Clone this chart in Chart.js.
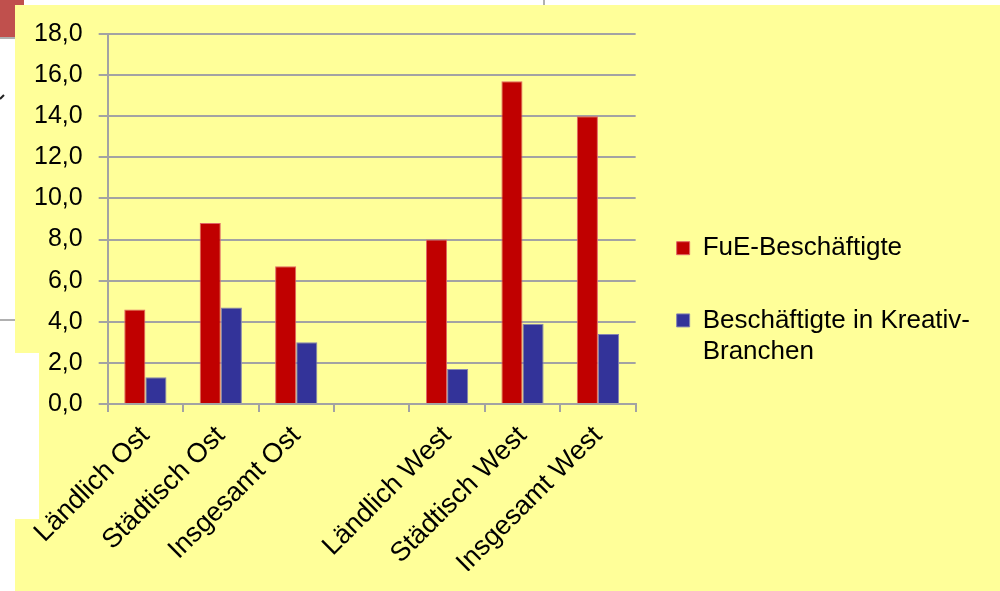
<!DOCTYPE html>
<html>
<head>
<meta charset="utf-8">
<script src="https://cdn.jsdelivr.net/npm/chart.js@4"></script>
<style>
  body { margin: 0; background: #fff; }
  #wrap { width: 1000px; height: 591px; }
</style>
</head>
<body>
<div id="wrap"><canvas id="myChart"></canvas></div>
<script>
var categories = ['Ländlich Ost', 'Städtisch Ost', 'Insgesamt Ost', '', 'Ländlich West', 'Städtisch West', 'Insgesamt West'];
var fueValues = [4.6, 8.8, 6.7, null, 8.0, 15.7, 14.0];
var kreativValues = [1.3, 4.7, 3.0, null, 1.7, 3.9, 3.4];
var fueLabel = ['FuE-Beschäftigte'];
var kreativLabel = ['Beschäftigte in Kreativ-', 'Branchen'];

var gridGrey = '#a3a3a3';
var font = 'Liberation Sans, Arial, sans-serif';

// yellow slide background with the bits of the slide peeking out around it
var backdrop = {
    id: 'backdrop',
    beforeDraw: function (chart) {
        var c = chart.ctx;
        c.save();
        c.fillStyle = '#ffffff';
        c.fillRect(0, 0, chart.width, chart.height);
        c.fillStyle = '#c0504d';
        c.fillRect(0, 0, 24, 37);
        c.fillStyle = '#b0b0b0';
        c.fillRect(0, 37, 15, 2);
        c.fillRect(0, 319, 15, 2);
        c.fillRect(543, 0, 2, 5);
        c.fillStyle = '#ffff99';
        c.beginPath();
        c.moveTo(15, 5);
        c.lineTo(chart.width, 5);
        c.lineTo(chart.width, chart.height);
        c.lineTo(15, chart.height);
        c.lineTo(15, 519);
        c.lineTo(39, 519);
        c.lineTo(39, 353);
        c.lineTo(15, 353);
        c.closePath();
        c.fill();
        c.strokeStyle = '#222';
        c.lineWidth = 2;
        c.beginPath();
        c.moveTo(0, 99);
        c.lineTo(4, 95);
        c.stroke();
        c.restore();
    }
};

var ctx = document.getElementById('myChart').getContext('2d');

var myChart = new Chart(ctx, {
    type: 'bar',
    data: {
        labels: categories,
        datasets: [{
            label: fueLabel,
            data: fueValues,
            backgroundColor: '#c00000',
            borderColor: '#e06666',
            borderWidth: 1
        }, {
            label: kreativLabel,
            data: kreativValues,
            backgroundColor: '#333399',
            borderColor: '#8585b0',
            borderWidth: 1
        }]
    },
    options: {
        responsive: true,
        maintainAspectRatio: false,
        animation: false,
        categoryPercentage: 0.56,
        barPercentage: 1.0,
        layout: {
            padding: { top: 34, left: 18, right: 20, bottom: 20 }
        },
        scales: {
            x: {
                grid: {
                    drawOnChartArea: false,
                    tickLength: 8,
                    color: gridGrey,
                    lineWidth: 2
                },
                border: { color: gridGrey, width: 2 },
                ticks: {
                    minRotation: 45,
                    maxRotation: 45,
                    padding: 8,
                    color: '#000',
                    font: { family: font, size: 27 }
                },
                // rotated labels may hang past the plot edges and below the box
                afterFit: function (scale) {
                    scale.paddingLeft = 0;
                    scale.paddingRight = 0;
                    scale.height = 167;
                }
            },
            y: {
                min: 0,
                max: 18,
                grid: {
                    color: gridGrey,
                    lineWidth: 2,
                    tickLength: 9
                },
                border: { color: gridGrey, width: 2 },
                ticks: {
                    stepSize: 2,
                    padding: 16,
                    color: '#000',
                    font: { family: font, size: 25 },
                    callback: function (v) {
                        return v.toFixed(1).replace('.', ',');
                    }
                }
            }
        },
        plugins: {
            legend: {
                position: 'right',
                maxWidth: 400,
                labels: {
                    boxWidth: 13,
                    boxHeight: 13,
                    padding: 41,
                    color: '#000',
                    font: { family: font, size: 26, lineHeight: 1.2 }
                }
            },
            tooltip: { enabled: false }
        }
    },
    plugins: [backdrop]
});
</script>
</body>
</html>
